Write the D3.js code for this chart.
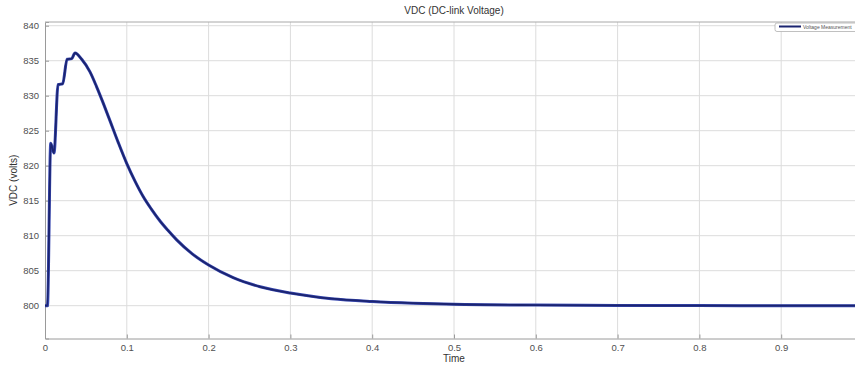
<!DOCTYPE html>
<html lang="en">
<head>
    <meta charset="UTF-8">
    <title>VDC (DC-link Voltage)</title>
    <script src="https://cdn.jsdelivr.net/npm/d3@7"></script>
    <style>
        body { margin: 0; background: #fff; }
        #chart { width: 855px; height: 367px; overflow: hidden; }
        text { font-family: "Liberation Sans", Arial, sans-serif; }
    </style>
</head>
<body>
<div id="chart"></div>
<script>

    // Values.
    const time = [0, 0.003, 0.007, 0.011, 0.016, 0.0216, 0.027, 0.0326, 0.0367, 0.0449,
        0.055, 0.063, 0.0713, 0.0795, 0.0896, 0.1, 0.11, 0.12, 0.13, 0.1406,
        0.15, 0.161, 0.18, 0.2, 0.23, 0.263, 0.3, 0.35, 0.4, 0.45,
        0.5, 0.6, 0.7, 0.8, 0.9, 1.0];
    const vdc = [800, 800, 823.2, 821.8, 831.6, 831.7, 835.2, 835.3, 836.1, 835.2,
        833.4, 831.3, 828.9, 826.4, 823.3, 820.3, 817.8, 815.6, 813.8, 812.1,
        810.8, 809.4, 807.4, 805.8, 804.0, 802.7, 801.8, 801.0, 800.6, 800.35,
        800.2, 800.08, 800.03, 800.01, 800.0, 800.0];

    const xTicks = [0, 0.1, 0.2, 0.3, 0.4, 0.5, 0.6, 0.7, 0.8, 0.9];
    const yTicks = [800, 805, 810, 815, 820, 825, 830, 835, 840];
    const seriesName = "Voltage Measurement";

    const width = 855;
    const height = 367;
    const margin = {top: 22, left: 45, bottom: 28.5};
    const plotRight = 863;   // axes run past the window edge, as in the reference

    const x = d3.scaleLinear().domain([0, 1]).range([margin.left, plotRight]);
    const y = d3.scaleLinear().domain([795.31, 840.53]).range([height - margin.bottom, margin.top]);

    const svg = d3.select("#chart").append("svg")
        .attr("width", width)
        .attr("height", height)
        .attr("viewBox", [0, 0, width, height]);

    // grid
    svg.append("g")
        .attr("stroke", "#dcdcdc")
        .attr("stroke-width", 1)
        .selectAll("line")
        .data(xTicks.slice(1))
        .join("line")
        .attr("x1", d => x(d)).attr("x2", d => x(d))
        .attr("y1", y.range()[1]).attr("y2", y.range()[0]);

    svg.append("g")
        .attr("stroke", "#dcdcdc")
        .attr("stroke-width", 1)
        .selectAll("line")
        .data(yTicks)
        .join("line")
        .attr("x1", x.range()[0]).attr("x2", x.range()[1])
        .attr("y1", d => y(d)).attr("y2", d => y(d));

    // axes (MATLAB-like, inward ticks, gray)
    const xAxis = svg.append("g")
        .attr("transform", `translate(0,${y.range()[0]})`)
        .call(d3.axisBottom(x).tickValues(xTicks).tickSize(-4).tickPadding(6)
            .tickFormat(d => d === 0 ? "0" : d3.format(".1f")(d)));
    const yAxis = svg.append("g")
        .attr("transform", `translate(${margin.left},0)`)
        .call(d3.axisLeft(y).tickValues(yTicks).tickSize(-4).tickPadding(6));

    [xAxis, yAxis].forEach(a => {
        a.select(".domain").attr("stroke", "#9a9a9a");
        a.selectAll(".tick line").attr("stroke", "#9a9a9a");
        a.selectAll(".tick text").attr("fill", "#505050").attr("font-size", 9.5);
    });

    // top frame line
    svg.append("line")
        .attr("x1", x.range()[0]).attr("x2", x.range()[1])
        .attr("y1", y.range()[1]).attr("y2", y.range()[1])
        .attr("stroke", "#a8a8a8");

    // curve
    const line = d3.line()
        .x((d, i) => x(time[i]))
        .y(d => y(d))
        .curve(d3.curveMonotoneX);

    svg.append("path")
        .datum(vdc)
        .attr("fill", "none")
        .attr("stroke", "#3848b0")
        .attr("stroke-width", 3)
        .attr("stroke-linejoin", "round")
        .attr("d", line);
    svg.append("path")
        .datum(vdc)
        .attr("fill", "none")
        .attr("stroke", "#1b2470")
        .attr("stroke-width", 1.8)
        .attr("stroke-linejoin", "round")
        .attr("d", line);

    // titles
    svg.append("text")
        .attr("x", (x.range()[0] + x.range()[1]) / 2)
        .attr("y", 14)
        .attr("text-anchor", "middle")
        .attr("font-size", 10)
        .attr("fill", "#333")
        .text("VDC (DC-link Voltage)");

    svg.append("text")
        .attr("x", (x.range()[0] + x.range()[1]) / 2)
        .attr("y", 362)
        .attr("text-anchor", "middle")
        .attr("font-size", 10)
        .attr("fill", "#333")
        .text("Time");

    svg.append("text")
        .attr("transform", `translate(17,${(y.range()[0] + y.range()[1]) / 2}) rotate(-90)`)
        .attr("text-anchor", "middle")
        .attr("font-size", 10)
        .attr("fill", "#333")
        .text("VDC (volts)");

    // legend
    const legend = svg.append("g").attr("transform", "translate(775,23)");
    legend.append("rect")
        .attr("width", 100).attr("height", 8.5).attr("rx", 2)
        .attr("fill", "#fff").attr("stroke", "#b0b0b0").attr("stroke-width", 0.8);
    legend.append("line")
        .attr("x1", 4).attr("x2", 26).attr("y1", 3.5).attr("y2", 3.5)
        .attr("stroke", "#1b2470").attr("stroke-width", 2);
    legend.append("text")
        .attr("x", 28).attr("y", 6)
        .attr("font-size", 5)
        .attr("fill", "#555")
        .text(seriesName);

</script>
</body>
</html>
